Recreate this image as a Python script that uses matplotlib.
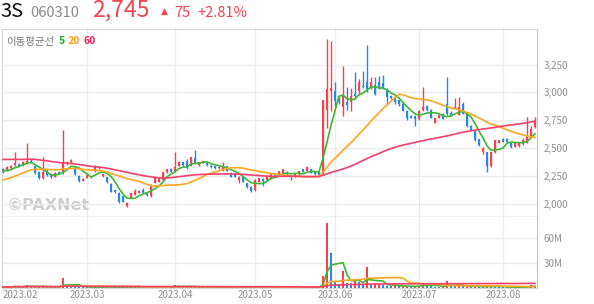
import matplotlib
matplotlib.use("Agg")
import matplotlib.pyplot as plt
import matplotlib.transforms as mtransforms
import numpy as np
import pandas as pd

plt.rcParams['font.family'] = ['Noto Sans CJK KR', 'DejaVu Sans']

# trading days (KRX holidays removed)
holidays = ['2023-03-01', '2023-05-01', '2023-05-05', '2023-05-29', '2023-06-06']
dates = pd.bdate_range('2023-01-31', '2023-08-11').drop(pd.to_datetime(holidays))

open_ = [2310, 2300, 2320, 2350, 2360, 2350, 2370, 2390, 2340, 2290,
         2230, 2300, 2270, 2245, 2290, 2275, 2360, 2380, 2320, 2255,
         2210, 2235, 2240, 2300, 2330, 2250, 2240, 2180, 2125, 2100,
         2070, 1985, 2055, 2085, 2100, 2130, 2100, 2070, 2190, 2200,
         2215, 2285, 2315, 2290, 2345, 2375, 2390, 2345, 2410, 2350,
         2370, 2370, 2345, 2340, 2320, 2300, 2340, 2280, 2280, 2215,
         2240, 2185, 2155, 2125, 2200, 2225, 2215, 2225, 2265, 2265,
         2275, 2290, 2250, 2245, 2265, 2310, 2300, 2310, 2290, 2290,
         2270, 2840, 3010, 3015, 2935, 2870, 2910, 2910, 2990, 3015,
         3060, 3095, 3045, 3070, 3090, 3085, 3030, 2970, 2960, 2930,
         2900, 2835, 2790, 2785, 2765, 2845, 2880, 2840, 2730, 2775,
         2810, 2900, 2820, 2855, 2800, 2895, 2810, 2700, 2655, 2580,
         2470, 2465, 2340, 2465, 2550, 2580, 2580, 2550, 2515, 2520,
         2535, 2550, 2610, 2690]
high = [2320, 2340, 2350, 2470, 2370, 2390, 2545, 2400, 2345, 2300,
        2425, 2310, 2280, 2290, 2300, 2660, 2390, 2400, 2330, 2260,
        2235, 2270, 2255, 2350, 2340, 2270, 2245, 2185, 2130, 2105,
        2075, 2015, 2100, 2135, 2130, 2140, 2105, 2180, 2240, 2240,
        2290, 2315, 2320, 2465, 2390, 2380, 2400, 2425, 2480, 2380,
        2390, 2375, 2355, 2345, 2340, 2375, 2345, 2285, 2285, 2250,
        2245, 2190, 2160, 2220, 2235, 2230, 2245, 2270, 2270, 2300,
        2315, 2295, 2255, 2270, 2300, 2315, 2345, 2315, 2295, 2295,
        2935, 3480, 3460, 3090, 2960, 3240, 3050, 3040, 3180, 3120,
        3190, 3425, 3140, 3140, 3150, 3160, 3040, 2980, 2970, 2940,
        2910, 2845, 2800, 2790, 2845, 3045, 2890, 2850, 2775, 2800,
        2815, 3140, 2830, 2950, 2955, 2910, 2815, 2710, 2660, 2585,
        2510, 2470, 2470, 2575, 2575, 2590, 2590, 2555, 2560, 2560,
        2590, 2780, 2700, 2780]
low = [2280, 2295, 2310, 2345, 2340, 2345, 2360, 2365, 2270, 2220,
       2225, 2250, 2230, 2240, 2265, 2270, 2350, 2370, 2260, 2200,
       2205, 2230, 2235, 2290, 2310, 2245, 2190, 2105, 2100, 2010,
       2015, 1975, 2050, 2080, 2095, 2095, 2070, 2065, 2185, 2195,
       2210, 2280, 2285, 2285, 2340, 2345, 2315, 2340, 2360, 2345,
       2365, 2345, 2325, 2315, 2315, 2295, 2295, 2240, 2240, 2190,
       2195, 2145, 2110, 2120, 2195, 2160, 2210, 2220, 2240, 2260,
       2270, 2260, 2215, 2240, 2260, 2285, 2295, 2275, 2260, 2255,
       2265, 2680, 2830, 2880, 2900, 2790, 2840, 2830, 2940, 2980,
       3040, 3000, 3030, 2980, 3030, 3030, 2900, 2940, 2900, 2880,
       2830, 2750, 2770, 2700, 2755, 2835, 2835, 2770, 2725, 2770,
       2760, 2800, 2795, 2850, 2795, 2805, 2690, 2660, 2565, 2520,
       2450, 2285, 2335, 2460, 2545, 2555, 2550, 2505, 2510, 2510,
       2530, 2545, 2600, 2685]
close = [2290, 2330, 2340, 2370, 2345, 2380, 2390, 2375, 2280, 2230,
         2290, 2260, 2240, 2280, 2270, 2365, 2380, 2395, 2265, 2210,
         2225, 2260, 2250, 2345, 2320, 2265, 2195, 2110, 2110, 2015,
         2020, 2010, 2095, 2120, 2120, 2100, 2077, 2170, 2230, 2230,
         2285, 2310, 2290, 2330, 2375, 2350, 2320, 2420, 2365, 2375,
         2385, 2350, 2330, 2320, 2335, 2340, 2300, 2245, 2245, 2245,
         2200, 2150, 2120, 2215, 2230, 2210, 2240, 2265, 2245, 2295,
         2310, 2265, 2240, 2265, 2295, 2290, 2330, 2280, 2265, 2260,
         2935, 3030, 3040, 2920, 2910, 2970, 2890, 2970, 2970, 3095,
         3045, 3035, 3090, 2990, 3040, 3040, 2955, 2950, 2910, 2895,
         2835, 2775, 2775, 2760, 2835, 2870, 2840, 2775, 2770, 2795,
         2765, 2810, 2800, 2870, 2865, 2810, 2695, 2665, 2570, 2525,
         2505, 2345, 2465, 2570, 2570, 2560, 2560, 2515, 2555, 2555,
         2570, 2610, 2670, 2745]
# closes before the visible window, only used to seed the moving averages
prior_close = [2340, 2360, 2330, 2350, 2370, 2345, 2335, 2355,
               2480, 2510, 2550, 2600, 2570, 2530, 2560, 2590, 2540, 2500,
               2520, 2560, 2610, 2580, 2550, 2520, 2490, 2510, 2540, 2530,
               2500, 2480, 2510, 2530, 2550, 2520, 2490, 2470, 2500, 2520,
               2490, 2460,
               2150, 2120, 2090, 2080, 2100, 2110, 2090,
               2180, 2230, 2260, 2290, 2310, 2280, 2260, 2290, 2320, 2300,
               2280, 2300]
volume_m = [1.2, 1.5, 1.3, 2.4, 1.1, 1.4, 3.6, 1.6, 1.5, 1.3,
            2.6, 1.2, 1.0, 1.1, 0.9, 12.4, 2.8, 1.9, 1.6, 1.4,
            1.0, 1.1, 0.9, 1.8, 1.2, 1.0, 1.2, 1.6, 1.1, 1.5,
            1.2, 1.4, 1.3, 1.2, 1.0, 0.9, 1.0, 2.0, 1.6, 1.2,
            1.5, 1.3, 1.1, 3.5, 1.8, 1.2, 1.4, 1.9, 2.2, 1.1,
            1.0, 0.9, 0.8, 0.9, 0.8, 1.2, 1.0, 1.3, 1.1, 1.0,
            1.1, 1.4, 1.5, 1.8, 1.1, 1.0, 0.9, 1.1, 0.8, 1.2,
            1.3, 1.0, 0.9, 0.8, 1.1, 0.9, 1.2, 1.0, 0.9, 0.9,
            15.0, 78.0, 42.0, 7.5, 5.0, 20.0, 6.0, 5.5, 8.0, 7.0,
            5.0, 25.0, 4.0, 4.5, 5.0, 3.5, 3.0, 2.5, 2.5, 2.0,
            2.2, 2.5, 1.5, 1.8, 3.0, 6.5, 3.0, 2.0, 1.5, 1.2,
            1.5, 9.0, 2.5, 2.0, 2.5, 2.0, 2.2, 1.5, 1.8, 1.5,
            1.2, 2.5, 2.0, 1.8, 1.2, 1.0, 0.9, 1.0, 0.8, 0.9,
            1.0, 2.5, 3.6, 2.5]

ma_windows = [5, 20, 60]
ma_colors = ['#3cb832', '#ffa620', '#f5406a']
RED = '#f2434f'
BLUE = '#2a86e6'
GRID = '#ececec'
LABEL = '#8c8c8c'

o = np.array(open_, float)
h = np.array(high, float)
l = np.array(low, float)
c = np.array(close, float)
vol = np.array(volume_m) * 1e6
x = np.arange(len(dates))

full_close = pd.Series(prior_close + close, dtype=float)
price_ma = [full_close.rolling(w).mean().to_numpy()[-len(close):] for w in ma_windows]
vol_s = pd.Series(vol)
vol_ma = [vol_s.rolling(w, min_periods=1).mean().to_numpy() for w in ma_windows]

W, H = 594, 304
fig = plt.figure(figsize=(W / 100, H / 100), dpi=100)
ax = fig.add_axes([2 / W, 1 - 217 / H, 535 / W, 188 / H])
axv = fig.add_axes([2 / W, 1 - 288 / H, 535 / W, 71 / H], sharex=ax)

month_idx = [i for i in range(1, len(dates)) if dates[i].month != dates[i - 1].month]
month_lab = [dates[i].strftime('%Y.%m') for i in month_idx]

# price panel
up = c >= o
col = np.where(up, RED, BLUE)
ax.vlines(x, l, h, colors=col, lw=1, zorder=3)
ax.bar(x, np.maximum(np.abs(c - o), 7), bottom=np.minimum(o, c), width=0.72,
       color=col, zorder=3)
for m, cc in zip(price_ma, ma_colors):
    ax.plot(x, m, color=cc, lw=1.2, zorder=4)

yt = [2000, 2250, 2500, 2750, 3000, 3250]
ax.set_ylim(1884, 3568)
ax.set_yticks(yt)
ax.set_yticklabels([f'{v:,}' for v in yt])
ax.grid(axis='y', color=GRID, lw=1, zorder=0)
for i in month_idx[1:]:
    ax.axvline(i, color=GRID, lw=1, zorder=0)
    axv.axvline(i, color=GRID, lw=1, zorder=0)
ax.set_xlim(-0.25, len(dates) - 0.5)

ax.yaxis.tick_right()
ax.tick_params(axis='y', length=0, pad=5, labelsize=7, labelcolor=LABEL)
ax.tick_params(axis='x', bottom=False, labelbottom=False)
ax.spines['top'].set_color('#d6d6d6')
ax.spines['left'].set_color('#d6d6d6')
ax.spines['right'].set_color('#c4c4c4')
ax.spines['bottom'].set_color('#333333')

ax.text(0.008, 0.035, '©PAXNet', transform=ax.transAxes, fontsize=11.5,
        fontweight='bold', color='#cdcdcd', zorder=1, family='DejaVu Sans')

# volume panel
vcol = [RED] + [RED if vol[i] >= vol[i - 1] else BLUE for i in range(1, len(vol))]
axv.bar(x, vol, width=0.72, color=vcol, zorder=3)
for m, cc in zip(vol_ma, ma_colors):
    axv.plot(x, m, color=cc, lw=1.2, zorder=4)
axv.set_ylim(0, 85.2e6)
axv.set_yticks([30e6, 60e6])
axv.set_yticklabels(['30M', '60M'])
axv.grid(axis='y', color=GRID, lw=1, zorder=0)
axv.yaxis.tick_right()
axv.tick_params(axis='y', length=0, pad=5, labelsize=7, labelcolor=LABEL)
axv.set_xticks(month_idx)
axv.set_xticklabels(month_lab)
axv.tick_params(axis='x', length=0, pad=1.5, labelsize=7, labelcolor=LABEL)
first = axv.get_xticklabels()[0]
first.set_ha('left')
first.set_transform(first.get_transform() +
                    mtransforms.ScaledTranslation(-0.04, 0, fig.dpi_scale_trans))
axv.spines['top'].set_visible(False)
axv.spines['left'].set_color('#d6d6d6')
axv.spines['right'].set_color('#c4c4c4')
axv.spines['bottom'].set_color('#d6d6d6')

# header
def ftext(px, py, s, **kw):
    fig.text(px / W, 1 - py / H, s, va='baseline', **kw)

ftext(0, 17, '3S', fontsize=14.5, color='#111111')
ftext(30, 17, '060310', fontsize=10.5, color='#8a8a8a')
ftext(92, 17, '2,745', fontsize=16.5, color=RED)
ftext(161, 14, '▲', fontsize=6.5, color=RED, family='DejaVu Sans')
ftext(174, 17, '75', fontsize=10.5, color=RED)
ftext(197, 17, '+2.81%', fontsize=10.5, color=RED)

ftext(6, 44.5, '이동평균선', fontsize=7.5, color='#777777')
ftext(59, 44.5, '5', fontsize=7.5, color='#22aa22', fontweight='bold')
ftext(68, 44.5, '20', fontsize=7.5, color='#ff9f1a', fontweight='bold')
ftext(83, 44.5, '60', fontsize=7.5, color='#e8205a', fontweight='bold')

fig.savefig('out.png', dpi=100)
